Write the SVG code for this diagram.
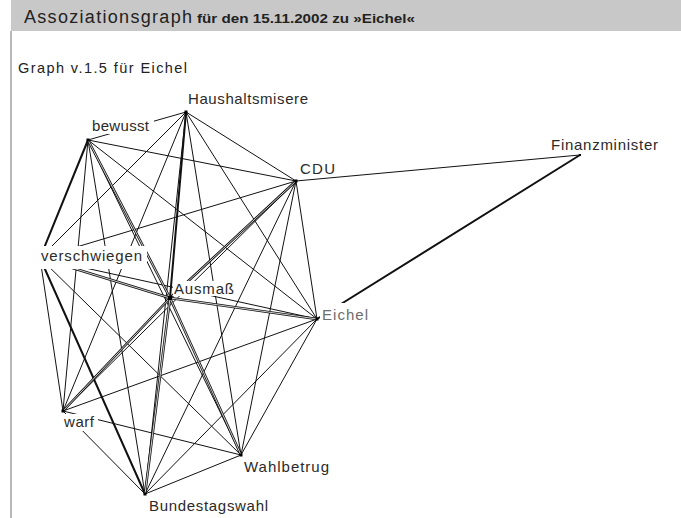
<svg xmlns="http://www.w3.org/2000/svg" width="681" height="518" viewBox="0 0 681 518">
<style>
.e line{stroke:#111;stroke-width:1;stroke-linecap:round}
.thick line{stroke:#111;stroke-width:2;stroke-linecap:round}
.dbl line{stroke:#111;stroke-width:2.5}
.dblw line{stroke:#fff;stroke-width:0.8}
.bg{fill:#fff}
.lbl{font-family:"Liberation Sans",Arial,sans-serif;font-size:15px;fill:#2a2a2a}
.dot{fill:#000}
</style>
<rect x="0" y="0" width="681" height="518" fill="#fff"/>
<rect x="11" y="0" width="670" height="31" fill="#c8c8c8"/>
<rect x="10" y="31" width="2" height="487" fill="#b8b8b8"/>
<text x="24" y="23" font-family="'Liberation Sans',Arial,sans-serif" font-size="18" fill="#222" textLength="168" lengthAdjust="spacing">Assoziationsgraph</text>
<text x="197" y="23" font-family="'Liberation Sans',Arial,sans-serif" font-size="13" font-weight="bold" fill="#222" textLength="218" lengthAdjust="spacingAndGlyphs">für den 15.11.2002 zu »Eichel«</text>
<text x="18" y="73" font-family="'Liberation Sans',Arial,sans-serif" font-size="14.5" fill="#222" textLength="169" lengthAdjust="spacing">Graph v.1.5  für Eichel</text>

<g id="connectors">
<g class="e">
<line x1="186" y1="112" x2="88" y2="140"/>
<line x1="186" y1="112" x2="296" y2="181"/>
<line x1="186" y1="112" x2="40" y2="258"/>
<line x1="186" y1="112" x2="317" y2="319"/>
<line x1="186" y1="112" x2="63" y2="411"/>
<line x1="186" y1="112" x2="241" y2="455"/>
<line x1="186" y1="112" x2="145" y2="494"/>
<line x1="88" y1="140" x2="296" y2="181"/>
<line x1="88" y1="140" x2="317" y2="319"/>
<line x1="88" y1="140" x2="63" y2="411"/>
<line x1="88" y1="140" x2="241" y2="455"/>
<line x1="88" y1="140" x2="145" y2="494"/>
<line x1="296" y1="181" x2="40" y2="258"/>
<line x1="296" y1="181" x2="317" y2="319"/>
<line x1="296" y1="181" x2="63" y2="411"/>
<line x1="296" y1="181" x2="241" y2="455"/>
<line x1="296" y1="181" x2="145" y2="494"/>
<line x1="40" y1="258" x2="317" y2="319"/>
<line x1="40" y1="258" x2="63" y2="411"/>
<line x1="40" y1="258" x2="241" y2="455"/>
<line x1="317" y1="319" x2="63" y2="411"/>
<line x1="317" y1="319" x2="241" y2="455"/>
<line x1="317" y1="319" x2="145" y2="494"/>
<line x1="63" y1="411" x2="241" y2="455"/>
<line x1="63" y1="411" x2="145" y2="494"/>
<line x1="241" y1="455" x2="145" y2="494"/>
<line x1="296" y1="181" x2="580" y2="155"/>
</g>
<g class="thick">
<line x1="88" y1="140" x2="40" y2="258"/>
<line x1="40" y1="258" x2="145" y2="494"/>
<line x1="186" y1="112" x2="170" y2="298"/>
<line x1="317" y1="319" x2="580" y2="155" stroke-width="1.8"/>
</g>
<g class="dbl">
<line x1="88" y1="140" x2="170" y2="298"/>
<line x1="296" y1="181" x2="170" y2="298"/>
<line x1="40" y1="258" x2="170" y2="298"/>
<line x1="170" y1="298" x2="317" y2="319"/>
<line x1="170" y1="298" x2="63" y2="411"/>
<line x1="170" y1="298" x2="241" y2="455"/>
<line x1="170" y1="298" x2="145" y2="494"/>
</g>
<g class="dblw">
<line x1="88" y1="140" x2="170" y2="298"/>
<line x1="296" y1="181" x2="170" y2="298"/>
<line x1="40" y1="258" x2="170" y2="298"/>
<line x1="170" y1="298" x2="317" y2="319"/>
<line x1="170" y1="298" x2="63" y2="411"/>
<line x1="170" y1="298" x2="241" y2="455"/>
<line x1="170" y1="298" x2="145" y2="494"/>
</g>
</g>

<g id="n-haushaltsmisere">
<rect class="dot" x="184.5" y="110.5" width="3" height="3"/>
<rect class="bg" x="186" y="91" width="126" height="16"/>
<text class="lbl" x="188" y="104" textLength="120" lengthAdjust="spacing">Haushaltsmisere</text>
</g>
<g id="n-bewusst">
<rect class="dot" x="86.5" y="138.5" width="3" height="3"/>
<rect class="bg" x="90" y="118" width="64" height="16"/>
<text class="lbl" x="92" y="131" textLength="57" lengthAdjust="spacing">bewusst</text>
</g>
<g id="n-cdu">
<rect class="dot" x="294.5" y="179.5" width="3" height="3"/>
<rect class="bg" x="298" y="161" width="40" height="15"/>
<text class="lbl" x="300" y="174" textLength="35" lengthAdjust="spacing">CDU</text>
</g>
<g id="n-finanzminister">
<rect class="dot" x="579" y="154" width="2" height="2"/>
<rect class="bg" x="549" y="137" width="112" height="16"/>
<text class="lbl" x="551" y="150" textLength="107" lengthAdjust="spacing">Finanzminister</text>
</g>
<g id="n-verschwiegen">
<rect class="bg" x="37" y="246" width="110" height="23"/>
<text class="lbl" x="41" y="261" textLength="101" lengthAdjust="spacing">verschwiegen</text>
</g>
<g id="n-ausmass">
<rect class="dot" x="168" y="296" width="4" height="4"/>
<rect class="bg" x="173" y="281" width="63" height="15"/>
<text class="lbl" x="174" y="294" textLength="60" lengthAdjust="spacing">Ausmaß</text>
</g>
<g id="n-eichel">
<rect class="dot" x="315.5" y="317.5" width="3" height="3"/>
<rect class="bg" x="320" y="303" width="50" height="22"/>
<text class="lbl" x="322" y="320" textLength="46" lengthAdjust="spacing" style="fill:#6e6e6e">Eichel</text>
</g>
<g id="n-warf">
<rect class="dot" x="61.5" y="409.5" width="3" height="3"/>
<rect class="bg" x="62" y="414" width="36" height="17"/>
<text class="lbl" x="64" y="427" textLength="30" lengthAdjust="spacing">warf</text>
</g>
<g id="n-wahlbetrug">
<rect class="dot" x="239.5" y="453.5" width="3" height="3"/>
<rect class="bg" x="242" y="459" width="90" height="18"/>
<text class="lbl" x="244" y="472" textLength="85" lengthAdjust="spacing">Wahlbetrug</text>
</g>
<g id="n-bundestagswahl">
<rect class="dot" x="143.5" y="492.5" width="3" height="3"/>
<rect class="bg" x="147" y="498" width="124" height="18"/>
<text class="lbl" x="149" y="511" textLength="119" lengthAdjust="spacing">Bundestagswahl</text>
</g>
</svg>
